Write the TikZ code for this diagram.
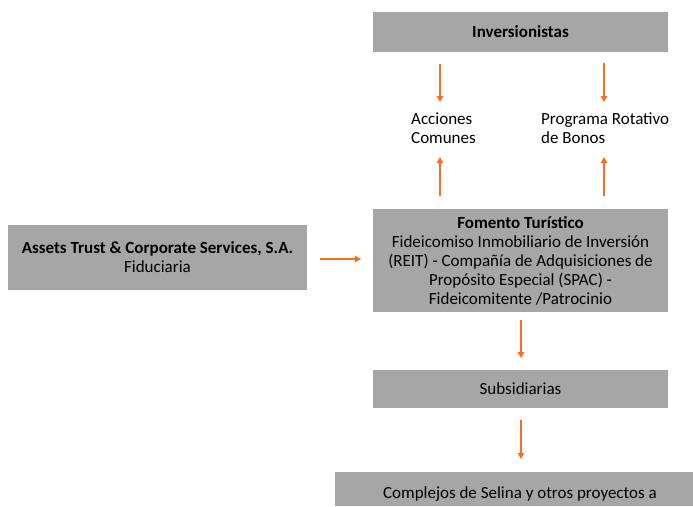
\documentclass[tikz,border=0pt]{standalone}
\usepackage{fontspec}
\setmainfont{Carlito}
\usetikzlibrary{arrows.meta}
\definecolor{boxgray}{RGB}{166,166,166}
\definecolor{arrorange}{RGB}{250,110,30}
\begin{document}
\begin{tikzpicture}[x=1pt,y=-1pt,
  gbox/.style={fill=boxgray,draw=none,inner sep=0pt,align=center,font=\fontsize{17}{19}\selectfont},
  plain/.style={inner sep=0pt,align=left,font=\fontsize{17}{19.5}\selectfont},
  arr/.style={draw=arrorange,line width=1.2pt,-{Triangle[width=6.5pt,length=6pt]}}]
\useasboundingbox (0,0) rectangle (693,506);
% boxes
\node[gbox,minimum width=295pt,minimum height=40pt] (inv) at (520.5,32) {\textbf{Inversionistas}};
\node[gbox,minimum width=299pt,minimum height=65pt] (assets) at (157.5,257.5) {\textbf{Assets Trust \& Corporate Services, S.A.}\\Fiduciaria};
\node[gbox,minimum width=295pt,minimum height=103pt] (fom) at (520.5,260.5) {\textbf{Fomento Turístico}\\Fideicomiso Inmobiliario de Inversión\\(REIT) - Compañía de Adquisiciones de\\Propósito Especial (SPAC) -\\Fideicomitente /Patrocinio};
\node[gbox,minimum width=295pt,minimum height=38pt] (sub) at (520.5,389) {Subsidiarias};
\fill[boxgray] (335,472) rectangle (693,506);
\node[inner sep=0pt,font=\fontsize{17}{19}\selectfont,anchor=base] (comp) at (520,498) {Complejos de Selina y otros proyectos a};
% text labels
\node[plain,anchor=west] (acc) at (411,128) {Acciones\\Comunes};
\node[plain,anchor=west] (prog) at (541,128) {Programa Rotativo\\de Bonos};
% arrow endpoints
\coordinate (a1s) at (440,64); \coordinate (a1e) at (440,102);
\coordinate (a2s) at (604,63); \coordinate (a2e) at (604,102);
\coordinate (a3s) at (440,196); \coordinate (a3e) at (440,157);
\coordinate (a4s) at (604,196); \coordinate (a4e) at (604,157);
\coordinate (a5s) at (320,259); \coordinate (a5e) at (361,259);
\coordinate (a6s) at (521,320); \coordinate (a6e) at (521,358);
\coordinate (a7s) at (521,420); \coordinate (a7e) at (521,459);
\draw[arr] (a1s) -- (a1e);
\draw[arr] (a2s) -- (a2e);
\draw[arr] (a3s) -- (a3e);
\draw[arr] (a4s) -- (a4e);
\draw[arr] (a5s) -- (a5e);
\draw[arr] (a6s) -- (a6e);
\draw[arr] (a7s) -- (a7e);
\end{tikzpicture}
\end{document}
